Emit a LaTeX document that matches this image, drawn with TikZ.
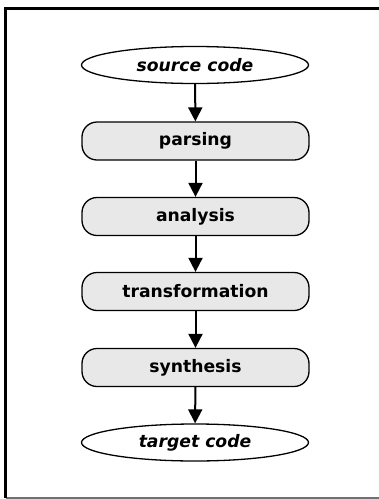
\documentclass[tikz,border=0pt]{standalone}
\usepackage{fontspec}
\setmainfont{DejaVu Sans}
\usetikzlibrary{shapes.geometric,arrows.meta}
\tikzset{
  term/.style={ellipse, draw=black, line width=1.3pt, fill=white, minimum width=227pt, minimum height=37pt, inner sep=0pt, font=\fontsize{17.2}{19}\selectfont\bfseries\itshape},
  stage/.style={rectangle, rounded corners=15pt, draw=black, line width=1.3pt, fill=boxgray, minimum width=227pt, minimum height=38pt, inner sep=0pt, font=\fontsize{17.2}{19}\selectfont\bfseries},
  flow/.style={line width=2pt, -{Triangle[length=14pt,width=14pt]}}
}
\definecolor{boxgray}{HTML}{E8E8E8}
\definecolor{framegray}{HTML}{707070}
\begin{document}
\begin{tikzpicture}[x=1pt,y=-1pt]
\useasboundingbox (0,0) rectangle (379,499);
% frame
\coordinate (tl) at (5.5,8.5);
\coordinate (tr) at (379,8.5);
\coordinate (bl) at (5.5,498);
\coordinate (br) at (379,498);
\draw[framegray, line width=1.5pt] (bl) -- (br);
\draw[black, line width=3pt] (bl) -- (tl) -- (tr);
% nodes
\node[term]  (src)   at (195,65)  {source code};
\node[stage] (parse) at (195.5,141) {parsing};
\node[stage] (anal)  at (195.5,216.5) {analysis};
\node[stage] (trans) at (195.5,291.5) {transformation};
\node[stage] (synth) at (195.5,367.5) {synthesis};
\node[term]  (tgt)   at (195,442.5) {target code};
% connectors
\draw[flow] (src) -- (parse);
\draw[flow] (parse) -- (anal);
\draw[flow] (anal) -- (trans);
\draw[flow] (trans) -- (synth);
\draw[flow] (synth) -- (tgt);
\end{tikzpicture}
\end{document}
